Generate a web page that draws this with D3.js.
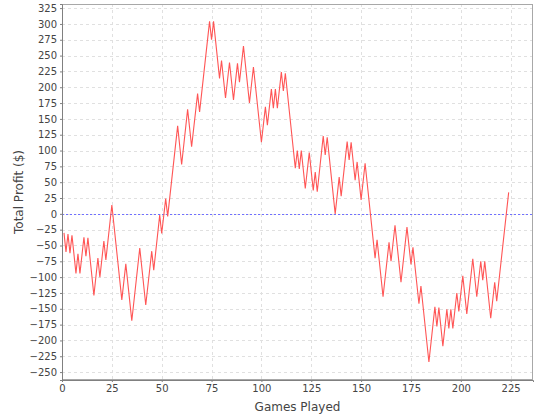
<!DOCTYPE html>
<html>
<head>
<meta charset="utf-8">
<script src="https://cdn.jsdelivr.net/npm/d3@7"></script>
<style>
  html, body { margin: 0; padding: 0; background: #fff; }
  svg { display: block; font-family: "DejaVu Sans", sans-serif; }
</style>
</head>
<body>
<svg id="chart" width="540" height="420"></svg>
<script>
const WIDTH = 540;
const HEIGHT = 420;
const MARGIN = { top: 4, right: 7, bottom: 40, left: 62 };

// turning points of the running total (game number, profit in $)
const games = [1, 2, 3, 4, 5, 7, 8, 9, 11, 12, 13, 16, 18, 19, 21, 22, 25, 30, 32, 35,
  39, 42, 45, 46, 49, 50, 52, 53, 58, 60, 63, 65, 68, 69, 74, 75, 76, 79, 80, 82,
  84, 86, 88, 89, 91, 94, 96, 100, 102, 103, 105, 106, 107, 108, 110, 111, 112, 117, 118, 119,
  120, 122, 124, 126, 127, 128, 131, 132, 133, 137, 139, 140, 143, 144, 145, 147, 148, 150, 152, 157,
  158, 161, 164, 165, 167, 170, 173, 175, 176, 179, 180, 184, 187, 188, 189, 191, 193, 194, 195, 196,
  198, 199, 201, 203, 206, 208, 210, 211, 212, 215, 217, 218, 224];
const profits = [-30, -60, -32, -62, -34, -94, -63, -94, -37, -67, -38, -129, -70, -100, -43, -73, 14, -136, -79, -169,
  -54, -144, -59, -89, -2, -31, 24, -4, 139, 78, 165, 106, 190, 161, 304, 275, 304, 214, 242, 183,
  239, 180, 238, 208, 265, 175, 232, 113, 169, 140, 197, 167, 197, 167, 224, 194, 222, 72, 100, 71,
  100, 40, 97, 37, 66, 35, 123, 93, 121, 0, 58, 28, 114, 85, 113, 53, 82, 22, 80, -70,
  -41, -131, -45, -75, -18, -108, -21, -80, -53, -142, -114, -234, -147, -178, -148, -209, -151, -181, -151, -181,
  -125, -154, -98, -158, -71, -131, -75, -105, -75, -165, -108, -138, 34];

const xTicks = d3.range(0, 226, 25);
const yTicks = d3.range(-250, 326, 25);
const X_DOMAIN = [0, 236.2];
const Y_DOMAIN = [-262.5, 331.5];

const INNER_W = WIDTH - MARGIN.left - MARGIN.right;
const INNER_H = HEIGHT - MARGIN.top - MARGIN.bottom;

const data = games.map((g, i) => ({ game: g, profit: profits[i] }));

const svg = d3.select("#chart");
const g = svg.append("g").attr("transform", `translate(${MARGIN.left},${MARGIN.top})`);

const x = d3.scaleLinear().domain(X_DOMAIN).range([0, INNER_W]);
const y = d3.scaleLinear().domain(Y_DOMAIN).range([INNER_H, 0]);

// plot background
g.append("rect")
  .attr("width", INNER_W).attr("height", INNER_H)
  .attr("fill", "#fff");

// grid (light dashed, jfreechart style)
g.append("g").selectAll("line")
  .data(yTicks)
  .join("line")
  .attr("x1", 0).attr("x2", INNER_W)
  .attr("y1", d => Math.round(y(d)) + 0.5).attr("y2", d => Math.round(y(d)) + 0.5)
  .attr("stroke", "#e0e0e0").attr("stroke-dasharray", "3,3");

g.append("g").selectAll("line")
  .data(xTicks)
  .join("line")
  .attr("x1", d => Math.round(x(d)) + 0.5).attr("x2", d => Math.round(x(d)) + 0.5)
  .attr("y1", 0).attr("y2", INNER_H)
  .attr("stroke", "#e0e0e0").attr("stroke-dasharray", "3,3");

// zero marker
g.append("line")
  .attr("x1", 0).attr("x2", INNER_W)
  .attr("y1", Math.round(y(0)) + 0.5).attr("y2", Math.round(y(0)) + 0.5)
  .attr("stroke", "#7070ff").attr("stroke-dasharray", "2,2");

// series line
const line = d3.line().x(d => x(d.game)).y(d => y(d.profit));
g.append("path")
  .datum(data)
  .attr("d", line)
  .attr("fill", "none")
  .attr("stroke", "#ff5555")
  .attr("stroke-width", 1.1);

// plot outline
g.append("rect")
  .attr("x", 0.5).attr("y", 0.5)
  .attr("width", INNER_W - 1).attr("height", INNER_H - 1)
  .attr("fill", "none").attr("stroke", "#a8a8a8");

// axes
const xAxis = d3.axisBottom(x).tickValues(xTicks).tickSize(2).tickPadding(3);
const yAxis = d3.axisLeft(y).tickValues(yTicks).tickSize(2).tickPadding(3);

const gx = g.append("g").attr("transform", `translate(0,${INNER_H})`).call(xAxis);
const gy = g.append("g").call(yAxis);

[gx, gy].forEach(ax => {
  ax.select(".domain").attr("stroke", "#808080");
  ax.selectAll(".tick line").attr("stroke", "#808080");
  ax.selectAll(".tick text")
    .attr("fill", "#444")
    .attr("font-size", 10)
    .attr("font-family", "DejaVu Sans, sans-serif");
});

// axis labels
svg.append("text")
  .attr("x", MARGIN.left + INNER_W / 2)
  .attr("y", 411)
  .attr("text-anchor", "middle")
  .attr("font-size", 12)
  .attr("fill", "#444")
  .text("Games Played");

svg.append("text")
  .attr("transform", `translate(23,${MARGIN.top + INNER_H / 2}) rotate(-90)`)
  .attr("text-anchor", "middle")
  .attr("font-size", 12)
  .attr("fill", "#444")
  .text("Total Profit ($)");
</script>
</body>
</html>
